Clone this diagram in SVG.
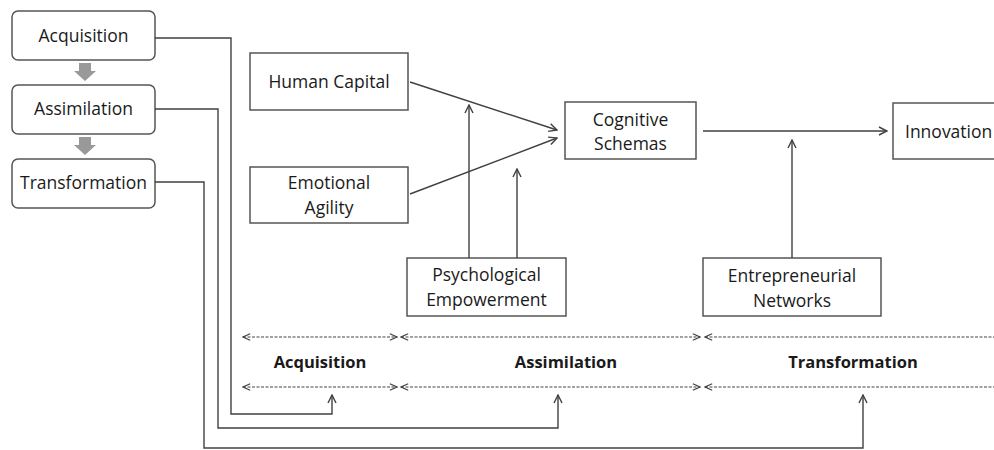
<svg xmlns="http://www.w3.org/2000/svg" width="994" height="450" viewBox="0 0 994 450">
<defs>
<marker id="ah" viewBox="0 0 10 10" refX="9" refY="5" markerWidth="10" markerHeight="10" markerUnits="userSpaceOnUse" orient="auto-start-reverse">
<path d="M1,1 L9,5 L1,9" fill="none" stroke="#404040" stroke-width="1.4"/>
</marker>
<marker id="dh" viewBox="0 0 10 10" refX="9" refY="5" markerWidth="9" markerHeight="9" markerUnits="userSpaceOnUse" orient="auto-start-reverse">
<path d="M1,1.5 L9,5 L1,8.5" fill="none" stroke="#404040" stroke-width="1.2"/>
</marker>
</defs>
<style>
.box{fill:#fff;stroke:#555;stroke-width:1.5}
.t{font-family:"Open Sans","Liberation Sans",sans-serif;font-size:17.5px;fill:#1a1a1a;text-anchor:middle}
.b{font-family:"Open Sans","Liberation Sans",sans-serif;font-size:16.5px;font-weight:bold;fill:#1a1a1a;text-anchor:middle}
.ln{fill:none;stroke:#404040;stroke-width:1.4}
.ar{fill:none;stroke:#404040;stroke-width:1.4;marker-end:url(#ah)}
.dl{fill:none;stroke:#444;stroke-width:1.1;stroke-dasharray:3 1.5;marker-start:url(#dh);marker-end:url(#dh)}
.ga{fill:#999}
</style>
<rect width="994" height="450" fill="#fff"/>
<g id="n-acq"><rect class="box" x="12" y="11" width="143" height="49" rx="6"/><text class="t" x="83.5" y="42">Acquisition</text></g>
<g id="n-ass"><rect class="box" x="12" y="85" width="143" height="49" rx="6"/><text class="t" x="83.5" y="115">Assimilation</text></g>
<g id="n-tra"><rect class="box" x="12" y="159" width="143" height="49" rx="6"/><text class="t" x="83.5" y="189">Transformation</text></g>
<g id="grey-arrows">
<path class="ga" d="M79,63 H91 V71 H96 L85,81 L74,71 H79 Z"/>
<path class="ga" d="M79,137 H91 V145 H96 L85,155 L74,145 H79 Z"/>
</g>
<g id="n-hc"><rect class="box" x="250" y="53" width="158" height="57"/><text class="t" x="329" y="88">Human Capital</text></g>
<g id="n-ea"><rect class="box" x="250" y="167" width="158" height="56"/><text class="t" x="329" y="189">Emotional</text><text class="t" x="329" y="214">Agility</text></g>
<g id="n-cs"><rect class="box" x="565" y="102" width="131" height="57"/><text class="t" x="630.5" y="126">Cognitive</text><text class="t" x="630.5" y="150">Schemas</text></g>
<g id="n-inn"><rect class="box" x="893" y="103" width="110" height="56"/><text class="t" x="905" y="138" style="text-anchor:start">Innovation</text></g>
<g id="n-pe"><rect class="box" x="407" y="258" width="159" height="58"/><text class="t" x="486.5" y="281">Psychological</text><text class="t" x="486.5" y="306">Empowerment</text></g>
<g id="n-en"><rect class="box" x="703" y="258" width="178" height="58"/><text class="t" x="792" y="282">Entrepreneurial</text><text class="t" x="792" y="307">Networks</text></g>
<g id="phase-labels">
<text class="b" x="320" y="368">Acquisition</text>
<text class="b" x="566" y="368">Assimilation</text>
<text class="b" x="853" y="368">Transformation</text>
</g>
<g id="connectors">
<path class="ar" d="M410,82 L557,130"/>
<path class="ar" d="M410,194 L557,138"/>
<path class="ar" d="M469,258 V105"/>
<path class="ar" d="M517,258 V169"/>
<path class="ar" d="M703,131 H887"/>
<path class="ar" d="M792,258 V140"/>
<path class="ar" d="M155,38 H231 V414 H332 V395"/>
<path class="ar" d="M155,109 H218 V428 H558 V395"/>
<path class="ar" d="M155,182 H204 V448 H863 V395"/>
<path class="dl" d="M243,337 H397"/>
<path class="dl" d="M401,337 H700"/>
<path class="dl" d="M705,337 H1010"/>
<path class="dl" d="M243,387 H397"/>
<path class="dl" d="M401,387 H700"/>
<path class="dl" d="M705,387 H1010"/>
</g>
</svg>
